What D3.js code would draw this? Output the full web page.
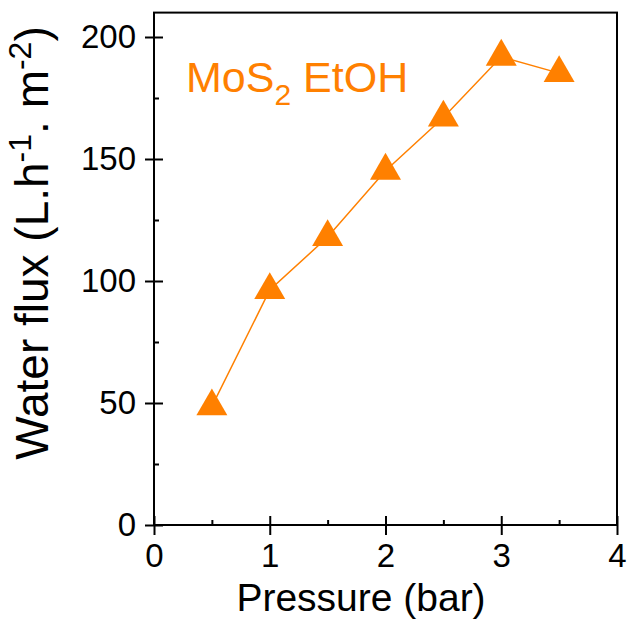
<!DOCTYPE html>
<html><head><meta charset="utf-8">
<script src="https://cdn.jsdelivr.net/npm/d3@7"></script>
<style>body{margin:0;background:#fff}svg{display:block}text{font-family:"Liberation Sans",Arial,sans-serif}</style>
</head><body><svg id="c" width="628" height="629"></svg>
<script>
const pressure = [0.5, 1.0, 1.5, 2.0, 2.5, 3.0, 3.5];
const flux = [48.6, 96.3, 118, 145.2, 167, 191.9, 185.2];
const xTicks = [0, 1, 2, 3, 4];
const yTicks = [0, 50, 100, 150, 200];
const xMinor = [0.5, 1.5, 2.5, 3.5];
const yMinor = [25, 75, 125, 175];
const orange = "#ff8000";

const svg = d3.select("#c");
const x = d3.scaleLinear().domain([0, 4]).range([154, 617]);
const y = d3.scaleLinear().domain([0, 200]).range([525, 37]);
const yTop = y(210);

svg.append("rect").attr("x", x(0)).attr("y", yTop).attr("width", x(4) - x(0)).attr("height", y(0) - yTop)
  .attr("fill", "none").attr("stroke", "#000").attr("stroke-width", 2);

const xAxis = d3.axisBottom(x).tickValues(xTicks).tickSize(10).tickPadding(9).tickFormat(d3.format("d"));
const gx = svg.append("g").attr("transform", `translate(0,${y(0)})`).call(xAxis);
gx.select(".domain").remove();
gx.selectAll(".tick line").attr("y1", -9).attr("y2", 10).attr("stroke-width", 2);
gx.selectAll(".tick text").style("font-size", "33px").attr("fill", "#000");
const gxm = svg.append("g").attr("transform", `translate(0,${y(0)})`).call(d3.axisBottom(x).tickValues(xMinor).tickSize(0).tickFormat(""));
gxm.select(".domain").remove();
gxm.selectAll(".tick line").attr("y1", -5).attr("y2", 0).attr("stroke-width", 2).attr("stroke", "#000");

const yAxis = d3.axisLeft(y).tickValues(yTicks).tickSize(9).tickPadding(9).tickFormat(d3.format("d"));
const gy = svg.append("g").attr("transform", `translate(${x(0)},0)`).call(yAxis);
gy.select(".domain").remove();
gy.selectAll(".tick line").attr("x1", -9).attr("x2", 9).attr("stroke-width", 2);
gy.selectAll(".tick text").style("font-size", "33px").attr("fill", "#000");
const gym = svg.append("g").attr("transform", `translate(${x(0)},0)`).call(d3.axisLeft(y).tickValues(yMinor).tickSize(0).tickFormat(""));
gym.select(".domain").remove();
gym.selectAll(".tick line").attr("x1", 0).attr("x2", 5).attr("stroke-width", 2).attr("stroke", "#000");

const pts = pressure.map((p, i) => [p, flux[i]]);
svg.append("path").datum(pts)
  .attr("d", d3.line().x(d => x(d[0])).y(d => y(d[1])))
  .attr("fill", "none").attr("stroke", orange).attr("stroke-width", 1.5);

svg.selectAll(".m").data(pts).enter().append("path")
  .attr("transform", d => `translate(${x(d[0])},${y(d[1])})`)
  .attr("d", d3.symbol().type(d3.symbolTriangle).size(416))
  .attr("fill", orange);

const lg = svg.append("text").attr("x", 186).attr("y", 92).style("font-size", "43px").attr("fill", orange);
lg.append("tspan").text("MoS");
lg.append("tspan").style("font-size", "30px").attr("dy", 13).text("2");
lg.append("tspan").attr("dy", -13).text(" EtOH");

svg.append("text").attr("x", 361).attr("y", 611).attr("text-anchor", "middle").style("font-size", "39px").attr("fill", "#000").text("Pressure (bar)");

const yt = svg.append("text").attr("transform", "translate(48,243) rotate(-90)").attr("text-anchor", "middle").style("font-size", "46px").attr("fill", "#000");
yt.append("tspan").text("Water flux (L.h");
yt.append("tspan").style("font-size", "32px").attr("dy", -17).text("-1");
yt.append("tspan").attr("dy", 17).text(". m");
yt.append("tspan").style("font-size", "32px").attr("dy", -17).text("-2");
yt.append("tspan").attr("dy", 17).text(")");
</script></body></html>
